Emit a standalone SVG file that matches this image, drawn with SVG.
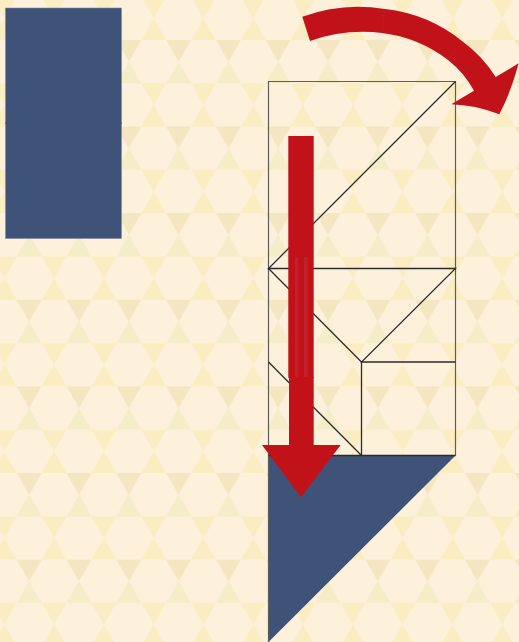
<svg xmlns="http://www.w3.org/2000/svg" width="519" height="642" viewBox="0 0 519 642">
<style>
.ln{fill:none;stroke:#2b2b2b;stroke-width:1.3}
.lt{fill:none;stroke:#5f5d57;stroke-width:1.2}
.blue{fill:#3f5277}
.red{fill:#c1121a}
.st{fill:#c4202c}
.seam{fill:none;stroke:#c6222a;stroke-width:0.4}
</style>
<defs>
<pattern id="hex" patternUnits="userSpaceOnUse" x="4.3" y="40" width="49.8" height="86.6">
<rect width="49.8" height="86.6" fill="#fdf1dc"/>
<polygon points="12.45,0 37.35,0 24.9,21.65" fill="#f4e6c0"/>
<polygon points="24.9,21.65 12.45,43.3 37.35,43.3" fill="#f4edc8"/>
<polygon points="-12.45,43.3 12.45,43.3 0,64.95 12.45,86.6 -12.45,86.6 0,64.95" fill="#fbedc2"/>
<polygon points="37.35,43.3 62.25,43.3 49.8,64.95 62.25,86.6 37.35,86.6 49.8,64.95" fill="#fbedc2"/>
</pattern>
</defs>
<rect id="background" width="519" height="642" fill="url(#hex)"/>
<g id="blue-rect">
<rect x="5.5" y="8" width="116" height="230.5" class="blue" stroke="#7f8ba3" stroke-width="0.6"/>
<line x1="5" y1="123" x2="122" y2="123" stroke="#3f5277"/>
</g>
<g id="blue-triangle"><polygon points="268.5,455.5 455.5,455.5 268.5,642" class="blue"/></g>
<g id="connectors">
<path class="lt" d="M268.5 642V81.5H455.5V455.5"/>
<path class="ln" d="M455.5 81.5L268.5 268.5H455.5L361.5 362H455.5M268.5 268.5L361.5 362V455.5M268.5 362L361.5 455.5M268.5 455.5H455.5"/>
</g>
<g id="down-arrow">
<rect x="288.3" y="136" width="25.4" height="242" class="red"/>
<polygon points="289,377 313.7,377 313.7,445 340.7,445 301,497.3 262,445 289,445" class="red"/>
<rect x="295" y="257" width="3" height="120" class="st"/>
<rect x="304" y="257" width="3.7" height="120" class="st"/>
</g>
<g id="curved-arrow">
<path class="red" d="M302.3 16.7A160 160 0 0 1 385 9A150 150 0 0 1 463 41.7A130 130 0 0 1 495.7 77L518.7 63.3Q511 92 499.3 114.3Q475 105 451.3 104.3L474 90.7A100 100 0 0 0 448 60A135 135 0 0 0 382 33A160 160 0 0 0 310 41Z"/>
<path class="seam" d="M385 9L382 33M463 41.7L448 60"/>
</g>
</svg>
